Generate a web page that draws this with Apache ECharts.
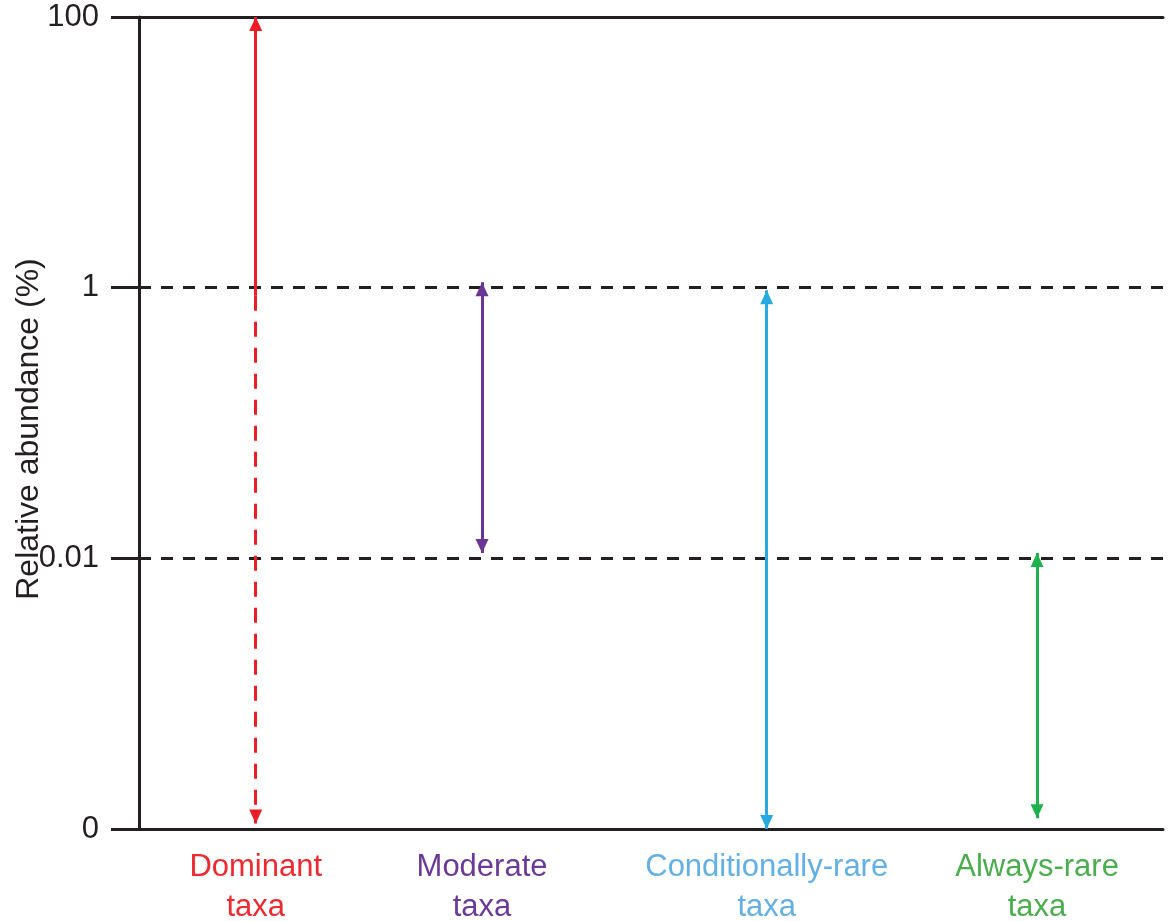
<!DOCTYPE html>
<html>
<head>
<meta charset="utf-8">
<script src="https://cdn.jsdelivr.net/npm/echarts@6/dist/echarts.min.js"></script>
<style>
  html, body { margin: 0; padding: 0; background: #fff; }
  #main { width: 1169px; height: 921px; }
</style>
</head>
<body>
<div id="main"></div>
<script>
// y positions are index steps: 0 -> "0", 1 -> "0.01", 2 -> "1", 3 -> "100"
const tickLabels = ['0', '0.01', '1', '100'];
const taxa = ['Dominant', 'Moderate', 'Conditionally-rare', 'Always-rare'];
const xPos = [1.14, 3.35, 6.13, 8.77];
const rangeTop = [3, 2.02, 1.99, 1.02];
const rangeBottom = [0.02, 1.02, 0, 0.04];
const dominantSolidEnd = 1.97; // red arrow goes dashed below this
const lineColors = ['#ee1c25', '#6a3594', '#27aae1', '#1fb14b'];
const textColors = ['#ee2a30', '#6b3a96', '#62b0e4', '#4aae4e'];

const ink = '#231f20';
const font = 'Liberation Sans, Arial, sans-serif';
const myChart = echarts.init(document.getElementById('main'), null, { renderer: 'canvas' });

// arrow end: tip sits on the value, so pull the triangle back by half its height
const head = (x, y) => ({ coord: [x, y], symbol: 'triangle', symbolSize: [13, 14], symbolOffset: [0, 7] });
const bare = (x, y) => ({ coord: [x, y], symbol: 'none' });

// one markLine per arrow (red split into solid + dashed)
const arrows = [];
for (let i = 0; i < taxa.length; i++) {
  const x = xPos[i];
  if (i === 0) {
    const s1 = bare(x, dominantSolidEnd);
    s1.lineStyle = { color: lineColors[i], type: 'solid', width: 3 };
    arrows.push([s1, head(x, rangeTop[i])]);
    const s2 = bare(x, dominantSolidEnd);
    s2.lineStyle = { color: lineColors[i], type: [15, 11], width: 3 };
    arrows.push([s2, head(x, rangeBottom[i])]);
  } else {
    const s = head(x, rangeBottom[i]);
    s.lineStyle = { color: lineColors[i], type: 'solid', width: 3 };
    arrows.push([s, head(x, rangeTop[i])]);
  }
}

const rich = {};
textColors.forEach((c, i) => {
  rich['c' + i] = { color: c, fontSize: 31, lineHeight: 40, fontFamily: font };
});

const option = {
  animation: false,
  grid: { left: 139, right: 6, top: 17, bottom: 92, outerBoundsMode: 'none' },
  xAxis: [
    {
      type: 'value',
      min: 0,
      max: 10,
      position: 'bottom',
      axisLine: { show: true, lineStyle: { color: ink, width: 3 } },
      axisTick: { show: false },
      splitLine: { show: false },
      axisLabel: {
        customValues: xPos,
        margin: 18,
        formatter: function (v) {
          const i = xPos.indexOf(v);
          if (i < 0) return '';
          return '{c' + i + '|' + taxa[i] + '}\n{c' + i + '|taxa}';
        },
        rich: rich
      }
    },
    {
      type: 'value',
      min: 0,
      max: 10,
      position: 'top',
      axisLine: { show: true, lineStyle: { color: ink, width: 3 } },
      axisTick: { show: false },
      axisLabel: { show: false },
      splitLine: { show: false }
    }
  ],
  yAxis: {
    type: 'value',
    min: 0,
    max: 3,
    interval: 1,
    name: 'Relative abundance (%)',
    nameLocation: 'middle',
    nameGap: 94,
    nameMoveOverlap: false,
    nameTextStyle: { color: ink, fontSize: 32, fontFamily: font, padding: [0, 12, 0, 0] },
    axisLine: { show: true, lineStyle: { color: ink, width: 3 } },
    axisTick: { show: true, length: 28, lineStyle: { color: ink, width: 3 } },
    axisLabel: {
      color: ink,
      fontSize: 31,
      fontFamily: font,
      margin: 40,
      formatter: function (v) { return tickLabels[v]; }
    },
    splitLine: { show: true, lineStyle: { color: ink, width: 3, type: [12, 10] } }
  },
  series: [
    {
      type: 'line',
      data: [],
      markLine: {
        silent: true,
        animation: false,
        label: { show: false },
        emphasis: { disabled: true },
        data: arrows
      }
    }
  ]
};

option && myChart.setOption(option);
</script>
</body>
</html>
